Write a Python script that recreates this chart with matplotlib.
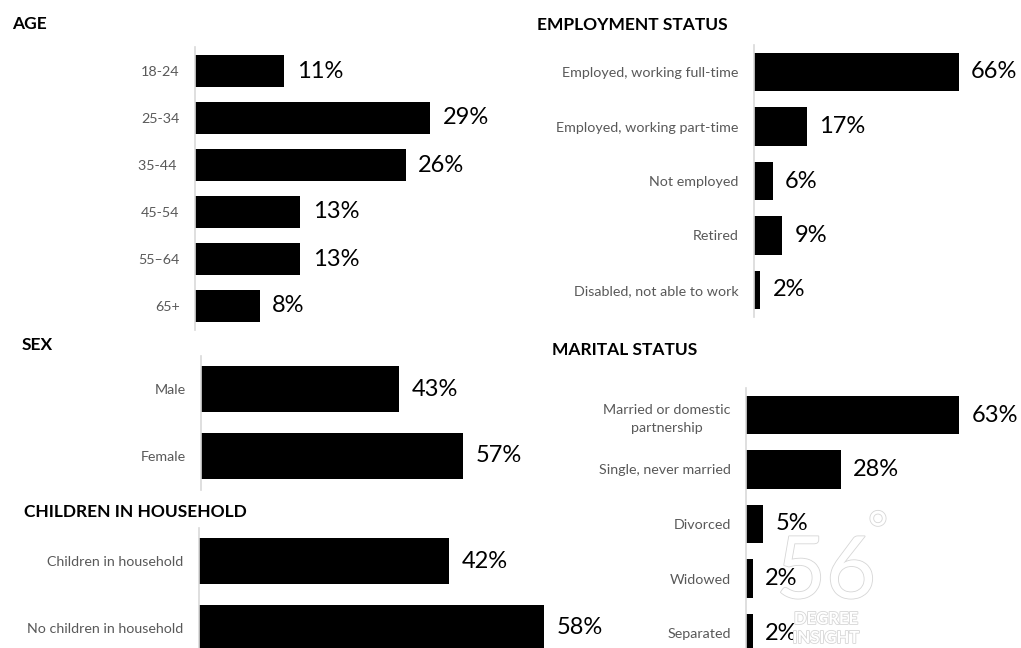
import matplotlib
matplotlib.use("Agg")
import matplotlib.pyplot as plt
import matplotlib.patheffects as pe

plt.rcParams["font.family"] = ["Lato", "DejaVu Sans"]

W, H = 1021, 648

age_cats = ["18-24", "25-34", "35-44 ", "45-54", "55\u201364", "65+"]
age_vals = [11, 29, 26, 13, 13, 8]

emp_cats = ["Employed, working full-time", "Employed, working part-time",
            "Not employed", "Retired", "Disabled, not able to work"]
emp_vals = [66, 17, 6, 9, 2]

sex_cats = ["Male", "Female"]
sex_vals = [43, 57]

kids_cats = ["Children in household", "No children in household"]
kids_vals = [42, 58]

mar_cats = ["Married or domestic\npartnership", "Single, never married",
            "Divorced", "Widowed", "Separated"]
mar_vals = [63, 28, 5, 2, 2]

fig = plt.figure(figsize=(W / 100, H / 100), dpi=100)
fig.patch.set_facecolor("white")


def panel(cats, vals, left, top, first, step, ppp, width, title, tx, ty):
    n = len(cats)
    bottom = first + step * (n - 0.5)
    ax = fig.add_axes([left / W, 1 - bottom / H, width / W, (bottom - top) / H])
    y = list(range(n))
    ax.barh(y, vals, height=0.7, color="black")
    ax.set_xlim(0, width / ppp)
    ax.set_ylim(n - 0.5, (top - first) / step)
    for s in ("top", "right", "bottom"):
        ax.spines[s].set_visible(False)
    ax.spines["left"].set_color("#d9d9d9")
    ax.spines["left"].set_linewidth(1.2)
    ax.set_xticks([])
    ax.set_yticks(y)
    ax.set_yticklabels(cats, fontsize=10.3, color="#595959")
    ax.tick_params(axis="y", length=0, pad=11)
    for lab in ax.get_yticklabels():
        lab.set_multialignment("center")
        lab.set_linespacing(1.55)
    for yi, v in zip(y, vals):
        ax.annotate(f"{v}%", (v, yi), xytext=(9, 0), textcoords="offset points",
                    va="center", ha="left", fontsize=17, color="black")
    fig.text(tx / W, 1 - ty / H, title, fontsize=12.5, fontweight="bold",
             va="baseline", ha="left", color="black")
    return ax


panel(age_cats, age_vals, 195, 47, 71, 47, 8.1, 320, "AGE", 12, 29)
panel(emp_cats, emp_vals, 754, 45, 72, 54.5, 3.1, 260, "EMPLOYMENT STATUS", 537, 30)
panel(sex_cats, sex_vals, 201, 356, 389, 67, 4.6, 320, "SEX", 22, 350)
panel(kids_cats, kids_vals, 199, 528, 561, 67, 5.95, 400, "CHILDREN IN HOUSEHOLD", 24, 517)
panel(mar_cats, mar_vals, 746, 388, 415, 54.5, 3.38, 270, "MARITAL STATUS", 552, 355)

# faint watermark (logo) over the marital panel
wm = [pe.withStroke(linewidth=1.2, foreground="#d6d6d6")]
fig.text(826 / W, 1 - 598 / H, "56", fontsize=62, color="white", ha="center",
         va="baseline", path_effects=wm, zorder=20)
fig.text(878 / W, 1 - 532 / H, "\u00b0", fontsize=34, color="white", ha="center",
         va="center", path_effects=wm, zorder=20)
fig.text(826 / W, 1 - 624 / H, "DEGREE", fontsize=12, color="white", ha="center",
         va="baseline", fontweight="bold", path_effects=wm, zorder=20)
fig.text(826 / W, 1 - 643 / H, "INSIGHT", fontsize=12, color="white", ha="center",
         va="baseline", fontweight="bold", path_effects=wm, zorder=20)

fig.savefig("out.png", dpi=100)
